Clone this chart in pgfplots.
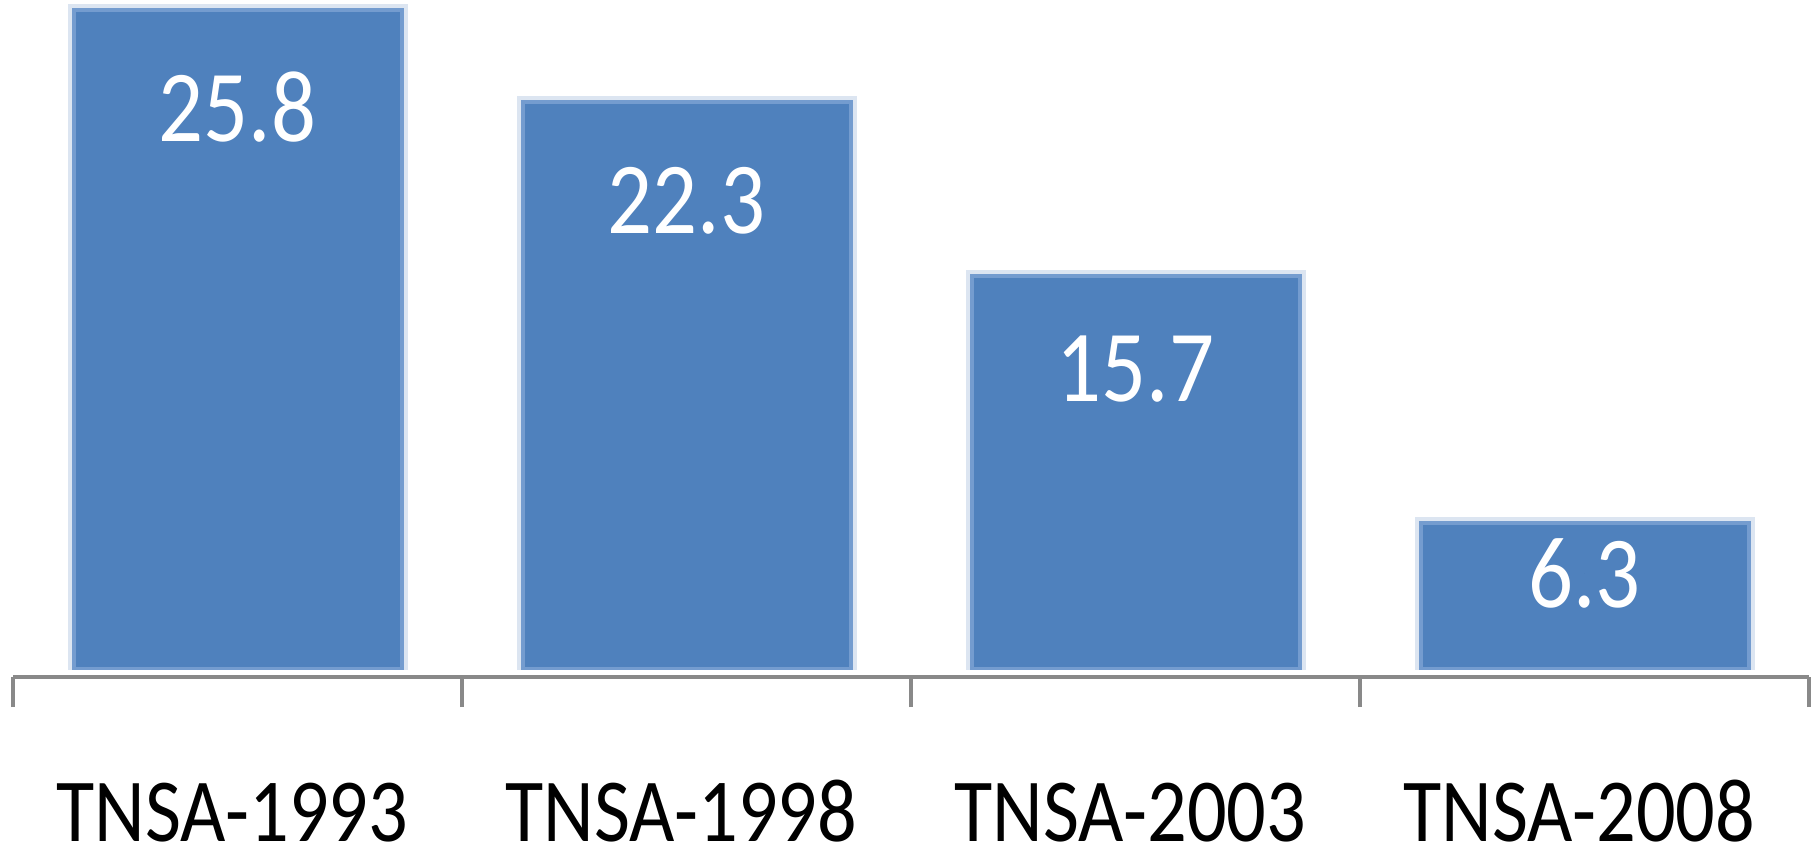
\documentclass[border=0pt]{standalone}
\usepackage{fontspec}
\setmainfont{Carlito}[FakeStretch=0.87]
\usepackage{pgfplots}
\pgfplotsset{compat=1.18}
\definecolor{barblue}{HTML}{4F81BD}
\definecolor{barmid}{HTML}{749CCF}
\definecolor{barlight}{HTML}{DCE5F1}
\definecolor{axisgray}{HTML}{898989}
\begin{document}
\begin{tikzpicture}
\begin{axis}[
  at={(0,0)}, anchor=south west,
  scale only axis, width=898pt, height=334.5pt,
  xmin=-0.5, xmax=3.5, ymin=0.7235, ymax=26.1995,
  axis x line*=bottom, axis y line=none,
  x axis line style={-, draw=axisgray, line width=2pt, yshift=-4pt},
  xtick={0,1,2,3}, xticklabels={TNSA-1993,TNSA-1998,TNSA-2003,TNSA-2008},
  major tick length=0pt,
  xticklabel style={anchor=base, inner sep=0pt, yshift=-86pt, xshift=-2.5pt, font=\fontsize{45}{54}\selectfont, text=black},
  extra x ticks={-0.5,0.5,1.5,2.5,3.5}, extra x tick labels={},
  extra x tick style={major tick length=15pt, tick align=outside, tick style={draw=axisgray, line width=2pt, yshift=-4pt}},
  ytick=\empty,
]
\addplot[ybar, bar width=0.7305, fill=barblue, draw=barmid, line width=2pt,
  preaction={draw=barlight, line width=6pt}]
  coordinates {(0,25.8) (1,22.3) (2,15.7) (3,6.3)};
\addplot[only marks, mark=*, mark size=0pt, mark options={draw=none, fill=none},
  point meta=explicit symbolic, nodes near coords,
  every node near coord/.append style={font=\fontsize{51}{60}\selectfont, text=white, anchor=center, inner sep=0pt}]
  coordinates {(0,22.14) [25.8] (1,18.55) [22.3] (2,12.13) [15.7] (3,4.36) [6.3]};
\end{axis}
\pgfresetboundingbox
\path[use as bounding box] (-6.5pt,-92pt) rectangle (901.5pt,334.5pt);
\end{tikzpicture}
\end{document}
